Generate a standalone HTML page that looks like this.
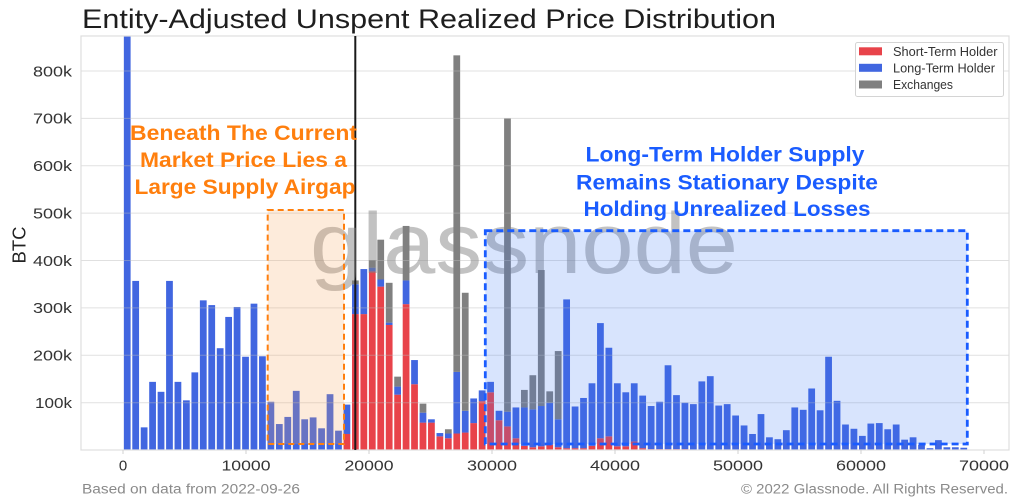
<!DOCTYPE html>
<html><head><meta charset="utf-8"><style>
html,body{margin:0;padding:0;background:#fff;}
svg{display:block;font-family:"Liberation Sans",Arial,sans-serif;}
.r{fill:#e8434a}.b{fill:#4166e0}.g{fill:#808080}
</style></head><body>
<svg width="1024" height="502" viewBox="0 0 1024 502" xmlns="http://www.w3.org/2000/svg">
<rect x="0" y="0" width="1024" height="502" fill="#fff"/>
<text x="82" y="28" font-size="27" fill="#1e1e1e" textLength="694" lengthAdjust="spacingAndGlyphs">Entity-Adjusted Unspent Realized Price Distribution</text>
<defs><clipPath id="pc"><rect x="81" y="36" width="928" height="414"/></clipPath></defs>
<g clip-path="url(#pc)">
<g transform="translate(123,450.1) scale(8.45,-0.4739)">
<rect class="b" x="0.1" y="0" width=".8" height="874"/>
<rect class="b" x="1.1" y="0" width=".8" height="357"/>
<rect class="b" x="2.1" y="0" width=".8" height="48"/>
<rect class="b" x="3.1" y="0" width=".8" height="144"/>
<rect class="b" x="4.1" y="0" width=".8" height="123"/>
<rect class="b" x="5.1" y="0" width=".8" height="357"/>
<rect class="b" x="6.1" y="0" width=".8" height="144"/>
<rect class="b" x="7.1" y="0" width=".8" height="105"/>
<rect class="b" x="8.1" y="0" width=".8" height="164"/>
<rect class="b" x="9.1" y="0" width=".8" height="316"/>
<rect class="b" x="10.1" y="0" width=".8" height="306"/>
<rect class="b" x="11.1" y="0" width=".8" height="215"/>
<rect class="b" x="12.1" y="0" width=".8" height="281"/>
<rect class="b" x="13.1" y="0" width=".8" height="302"/>
<rect class="b" x="14.1" y="0" width=".8" height="197"/>
<rect class="b" x="15.1" y="0" width=".8" height="309"/>
<rect class="b" x="16.1" y="0" width=".8" height="198"/>
<rect class="b" x="17.1" y="0" width=".8" height="102"/>
<rect class="b" x="18.1" y="0" width=".8" height="55"/>
<rect class="b" x="19.1" y="0" width=".8" height="70"/>
<rect class="b" x="20.1" y="0" width=".8" height="125"/>
<rect class="b" x="21.1" y="0" width=".8" height="65"/>
<rect class="b" x="22.1" y="0" width=".8" height="69"/>
<rect class="b" x="23.1" y="0" width=".8" height="46"/>
<rect class="b" x="24.1" y="0" width=".8" height="118"/>
<rect class="b" x="25.1" y="0" width=".8" height="41"/>
<rect class="r" x="26.1" y="0" width=".8" height="34"/><rect class="b" x="26.1" y="34" width=".8" height="62"/>
<rect class="r" x="27.1" y="0" width=".8" height="287"/><rect class="b" x="27.1" y="287" width=".8" height="63"/><rect class="g" x="27.1" y="350" width=".8" height="8"/>
<rect class="r" x="28.1" y="0" width=".8" height="287"/><rect class="b" x="28.1" y="287" width=".8" height="95"/>
<rect class="r" x="29.1" y="0" width=".8" height="377"/><rect class="b" x="29.1" y="377" width=".8" height="8"/><rect class="g" x="29.1" y="385" width=".8" height="16"/>
<rect class="r" x="30.1" y="0" width=".8" height="345"/><rect class="b" x="30.1" y="345" width=".8" height="15"/><rect class="g" x="30.1" y="360" width=".8" height="84"/>
<rect class="r" x="31.1" y="0" width=".8" height="264"/><rect class="b" x="31.1" y="264" width=".8" height="5"/><rect class="g" x="31.1" y="269" width=".8" height="84"/>
<rect class="r" x="32.1" y="0" width=".8" height="117"/><rect class="b" x="32.1" y="117" width=".8" height="17"/><rect class="g" x="32.1" y="134" width=".8" height="21"/>
<rect class="r" x="33.1" y="0" width=".8" height="308"/><rect class="b" x="33.1" y="308" width=".8" height="50"/><rect class="g" x="33.1" y="358" width=".8" height="115"/>
<rect class="r" x="34.1" y="0" width=".8" height="139"/><rect class="b" x="34.1" y="139" width=".8" height="51"/>
<rect class="r" x="35.1" y="0" width=".8" height="58"/><rect class="b" x="35.1" y="58" width=".8" height="21"/><rect class="g" x="35.1" y="79" width=".8" height="19"/>
<rect class="r" x="36.1" y="0" width=".8" height="58"/><rect class="b" x="36.1" y="58" width=".8" height="7"/>
<rect class="r" x="37.1" y="0" width=".8" height="29"/><rect class="b" x="37.1" y="29" width=".8" height="7"/>
<rect class="r" x="38.1" y="0" width=".8" height="25"/><rect class="b" x="38.1" y="25" width=".8" height="10"/><rect class="g" x="38.1" y="35" width=".8" height="9"/>
<rect class="r" x="39.1" y="0" width=".8" height="35"/><rect class="b" x="39.1" y="35" width=".8" height="130"/><rect class="g" x="39.1" y="165" width=".8" height="668"/>
<rect class="r" x="40.1" y="0" width=".8" height="37"/><rect class="b" x="40.1" y="37" width=".8" height="46"/><rect class="g" x="40.1" y="83" width=".8" height="249"/>
<rect class="r" x="41.1" y="0" width=".8" height="57"/><rect class="b" x="41.1" y="57" width=".8" height="52"/>
<rect class="r" x="42.1" y="0" width=".8" height="103"/><rect class="b" x="42.1" y="103" width=".8" height="23"/>
<rect class="r" x="43.1" y="0" width=".8" height="122"/><rect class="b" x="43.1" y="122" width=".8" height="22"/>
<rect class="r" x="44.1" y="0" width=".8" height="63"/><rect class="b" x="44.1" y="63" width=".8" height="20"/>
<rect class="r" x="45.1" y="0" width=".8" height="50"/><rect class="b" x="45.1" y="50" width=".8" height="31"/><rect class="g" x="45.1" y="81" width=".8" height="619"/>
<rect class="r" x="46.1" y="0" width=".8" height="25"/><rect class="b" x="46.1" y="25" width=".8" height="65"/>
<rect class="r" x="47.1" y="0" width=".8" height="9"/><rect class="b" x="47.1" y="9" width=".8" height="81"/><rect class="g" x="47.1" y="90" width=".8" height="37"/>
<rect class="r" x="48.1" y="0" width=".8" height="6"/><rect class="b" x="48.1" y="6" width=".8" height="80"/><rect class="g" x="48.1" y="86" width=".8" height="72"/>
<rect class="r" x="49.1" y="0" width=".8" height="8"/><rect class="b" x="49.1" y="8" width=".8" height="85"/><rect class="g" x="49.1" y="93" width=".8" height="287"/>
<rect class="r" x="50.1" y="0" width=".8" height="11"/><rect class="b" x="50.1" y="11" width=".8" height="89"/><rect class="g" x="50.1" y="100" width=".8" height="24"/>
<rect class="r" x="51.1" y="0" width=".8" height="6"/><rect class="b" x="51.1" y="6" width=".8" height="59"/><rect class="g" x="51.1" y="65" width=".8" height="144"/>
<rect class="r" x="52.1" y="0" width=".8" height="4"/><rect class="b" x="52.1" y="4" width=".8" height="314"/>
<rect class="r" x="53.1" y="0" width=".8" height="4"/><rect class="b" x="53.1" y="4" width=".8" height="88"/>
<rect class="r" x="54.1" y="0" width=".8" height="4"/><rect class="b" x="54.1" y="4" width=".8" height="106"/>
<rect class="r" x="55.1" y="0" width=".8" height="9"/><rect class="b" x="55.1" y="9" width=".8" height="132"/>
<rect class="r" x="56.1" y="0" width=".8" height="25"/><rect class="b" x="56.1" y="25" width=".8" height="243"/>
<rect class="r" x="57.1" y="0" width=".8" height="29"/><rect class="b" x="57.1" y="29" width=".8" height="187"/>
<rect class="r" x="58.1" y="0" width=".8" height="8"/><rect class="b" x="58.1" y="8" width=".8" height="133"/>
<rect class="r" x="59.1" y="0" width=".8" height="8"/><rect class="b" x="59.1" y="8" width=".8" height="114"/>
<rect class="r" x="60.1" y="0" width=".8" height="18"/><rect class="b" x="60.1" y="18" width=".8" height="123"/>
<rect class="r" x="61.1" y="0" width=".8" height="4"/><rect class="b" x="61.1" y="4" width=".8" height="111"/>
<rect class="r" x="62.1" y="0" width=".8" height="2"/><rect class="b" x="62.1" y="2" width=".8" height="91"/>
<rect class="r" x="63.1" y="0" width=".8" height="2"/><rect class="b" x="63.1" y="2" width=".8" height="100"/>
<rect class="r" x="64.1" y="0" width=".8" height="2"/><rect class="b" x="64.1" y="2" width=".8" height="177"/>
<rect class="r" x="65.1" y="0" width=".8" height="2"/><rect class="b" x="65.1" y="2" width=".8" height="114"/>
<rect class="r" x="66.1" y="0" width=".8" height="2"/><rect class="b" x="66.1" y="2" width=".8" height="98"/>
<rect class="b" x="67.1" y="0" width=".8" height="97"/>
<rect class="b" x="68.1" y="0" width=".8" height="145"/>
<rect class="b" x="69.1" y="0" width=".8" height="156"/>
<rect class="b" x="70.1" y="0" width=".8" height="94"/>
<rect class="b" x="71.1" y="0" width=".8" height="97"/>
<rect class="b" x="72.1" y="0" width=".8" height="73"/>
<rect class="b" x="73.1" y="0" width=".8" height="52"/>
<rect class="b" x="74.1" y="0" width=".8" height="34"/>
<rect class="b" x="75.1" y="0" width=".8" height="76"/>
<rect class="b" x="76.1" y="0" width=".8" height="27"/>
<rect class="b" x="77.1" y="0" width=".8" height="23"/>
<rect class="b" x="78.1" y="0" width=".8" height="42"/>
<rect class="b" x="79.1" y="0" width=".8" height="90"/>
<rect class="b" x="80.1" y="0" width=".8" height="85"/>
<rect class="b" x="81.1" y="0" width=".8" height="130"/>
<rect class="b" x="82.1" y="0" width=".8" height="84"/>
<rect class="b" x="83.1" y="0" width=".8" height="197"/>
<rect class="b" x="84.1" y="0" width=".8" height="104"/>
<rect class="b" x="85.1" y="0" width=".8" height="54"/>
<rect class="b" x="86.1" y="0" width=".8" height="45"/>
<rect class="b" x="87.1" y="0" width=".8" height="30"/>
<rect class="b" x="88.1" y="0" width=".8" height="56"/>
<rect class="b" x="89.1" y="0" width=".8" height="57"/>
<rect class="b" x="90.1" y="0" width=".8" height="44"/>
<rect class="b" x="91.1" y="0" width=".8" height="54"/>
<rect class="b" x="92.1" y="0" width=".8" height="22"/>
<rect class="b" x="93.1" y="0" width=".8" height="27"/>
<rect class="b" x="94.1" y="0" width=".8" height="11"/>
<rect class="b" x="95.1" y="0" width=".8" height="4"/>
<rect class="b" x="96.1" y="0" width=".8" height="21"/>
<rect class="b" x="97.1" y="0" width=".8" height="6"/>
<rect class="b" x="98.1" y="0" width=".8" height="6"/>
<rect class="b" x="99.1" y="0" width=".8" height="5"/>
</g>
</g>
<g stroke="rgb(187,187,187)" stroke-opacity="0.45" stroke-width="1">
<line x1="81" x2="1009" y1="71" y2="71"/>
<line x1="81" x2="1009" y1="118.4" y2="118.4"/>
<line x1="81" x2="1009" y1="165.8" y2="165.8"/>
<line x1="81" x2="1009" y1="213.1" y2="213.1"/>
<line x1="81" x2="1009" y1="260.5" y2="260.5"/>
<line x1="81" x2="1009" y1="307.9" y2="307.9"/>
<line x1="81" x2="1009" y1="355.3" y2="355.3"/>
<line x1="81" x2="1009" y1="402.7" y2="402.7"/>
</g>
<rect x="81" y="36" width="928" height="414" fill="none" stroke="#dedede" stroke-width="1.2"/>
<g stroke="#d0d0d0" stroke-width="1">
<line x1="123" x2="123" y1="450" y2="454"/><line x1="246" x2="246" y1="450" y2="454"/><line x1="369" x2="369" y1="450" y2="454"/><line x1="492" x2="492" y1="450" y2="454"/><line x1="615" x2="615" y1="450" y2="454"/><line x1="738" x2="738" y1="450" y2="454"/><line x1="861" x2="861" y1="450" y2="454"/><line x1="984" x2="984" y1="450" y2="454"/>
</g>
<line x1="355.3" x2="355.3" y1="36" y2="450" stroke="#1a1a1a" stroke-width="2"/>
<text x="310" y="273" font-size="86" fill="#808080" fill-opacity="0.48" textLength="428" lengthAdjust="spacingAndGlyphs">glassnode</text>
<rect x="267.7" y="210" width="76.3" height="234" fill="#f7a35c" fill-opacity="0.22" stroke="#ff7f0e" stroke-width="2" stroke-dasharray="6 4"/>
<rect x="485.3" y="230.7" width="482" height="213.3" fill="#3c78f5" fill-opacity="0.2" stroke="#1a5cff" stroke-width="2.8" stroke-dasharray="7 4"/>
<g font-weight="bold" font-size="21" fill="#ff7f0e" text-anchor="middle">
<text x="243.5" y="140" textLength="227" lengthAdjust="spacingAndGlyphs">Beneath The Current</text>
<text x="243.5" y="167" textLength="207" lengthAdjust="spacingAndGlyphs">Market Price Lies a</text>
<text x="245" y="194" textLength="221" lengthAdjust="spacingAndGlyphs">Large Supply Airgap</text>
</g>
<g font-weight="bold" font-size="21" fill="#1a5cff" text-anchor="middle">
<text x="725" y="161.7" textLength="279" lengthAdjust="spacingAndGlyphs">Long-Term Holder Supply</text>
<text x="727" y="189.5" textLength="302" lengthAdjust="spacingAndGlyphs">Remains Stationary Despite</text>
<text x="727" y="216" textLength="287" lengthAdjust="spacingAndGlyphs">Holding Unrealized Losses</text>
</g>
<g font-size="15" fill="#333" text-anchor="end">
<text x="72" y="76.3" textLength="39" lengthAdjust="spacingAndGlyphs">800k</text>
<text x="72" y="123.7" textLength="39" lengthAdjust="spacingAndGlyphs">700k</text>
<text x="72" y="171.1" textLength="39" lengthAdjust="spacingAndGlyphs">600k</text>
<text x="72" y="218.4" textLength="39" lengthAdjust="spacingAndGlyphs">500k</text>
<text x="72" y="265.8" textLength="39" lengthAdjust="spacingAndGlyphs">400k</text>
<text x="72" y="313.2" textLength="39" lengthAdjust="spacingAndGlyphs">300k</text>
<text x="72" y="360.6" textLength="39" lengthAdjust="spacingAndGlyphs">200k</text>
<text x="72" y="408" textLength="37" lengthAdjust="spacingAndGlyphs">100k</text>
</g>
<text transform="translate(25.5,245) rotate(-90)" font-size="18" fill="#222" text-anchor="middle" textLength="37" lengthAdjust="spacingAndGlyphs">BTC</text>
<g font-size="15" fill="#333" text-anchor="middle">
<text x="123" y="470.5">0</text>
<text x="246" y="470.5" textLength="49" lengthAdjust="spacingAndGlyphs">10000</text>
<text x="369" y="470.5" textLength="49" lengthAdjust="spacingAndGlyphs">20000</text>
<text x="492" y="470.5" textLength="50" lengthAdjust="spacingAndGlyphs">30000</text>
<text x="615" y="470.5" textLength="50" lengthAdjust="spacingAndGlyphs">40000</text>
<text x="738" y="470.5" textLength="50" lengthAdjust="spacingAndGlyphs">50000</text>
<text x="861" y="470.5" textLength="50" lengthAdjust="spacingAndGlyphs">60000</text>
<text x="984" y="470.5" textLength="50" lengthAdjust="spacingAndGlyphs">70000</text>
</g>
<rect x="855.5" y="42.5" width="148" height="54" rx="2" fill="#fff" fill-opacity="0.92" stroke="#d4d4d4" stroke-width="1"/>
<rect x="859" y="47.3" width="23" height="8" fill="#e8434a"/>
<rect x="859" y="63.8" width="23" height="8" fill="#4166e0"/>
<rect x="859" y="80.5" width="23" height="8" fill="#808080"/>
<g font-size="13" fill="#333">
<text x="893" y="56" textLength="104.5" lengthAdjust="spacingAndGlyphs">Short-Term Holder</text>
<text x="893" y="72.5" textLength="102" lengthAdjust="spacingAndGlyphs">Long-Term Holder</text>
<text x="893" y="89" textLength="60" lengthAdjust="spacingAndGlyphs">Exchanges</text>
</g>
<text x="82" y="493.5" font-size="13.5" fill="#8a8a8a" textLength="218" lengthAdjust="spacingAndGlyphs">Based on data from 2022-09-26</text>
<text x="1008" y="493.5" font-size="13.5" fill="#8a8a8a" text-anchor="end" textLength="267" lengthAdjust="spacingAndGlyphs">© 2022 Glassnode. All Rights Reserved.</text>
</svg>
</body></html>
